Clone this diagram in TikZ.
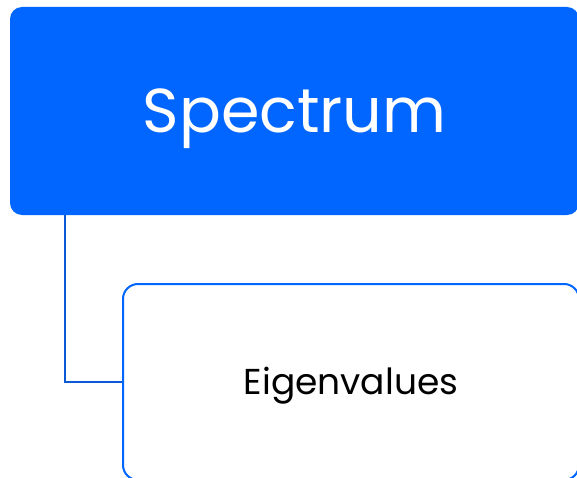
\documentclass[tikz,border=0pt]{standalone}
\usepackage{fontspec}
\setmainfont{Poppins}
\usetikzlibrary{positioning}
\definecolor{specblue}{HTML}{0066FF}
\definecolor{linkblue}{HTML}{0A5AD8}

\begin{document}
\begin{tikzpicture}[x=1pt,y=-1pt,
    topbox/.style={fill=specblue, rounded corners=12pt, inner sep=0pt,
      minimum width=569pt, minimum height=208pt, text=white,
      font=\fontsize{62}{74}\selectfont},
    subbox/.style={draw=specblue, line width=2pt, fill=white,
      rounded corners=15pt, inner sep=0pt, minimum width=456pt,
      minimum height=196pt, font=\fontsize{36}{44}\selectfont}]
  \useasboundingbox (0,0) rectangle (577,478);
  \node [topbox] (spectrum) at (294.5,111) {\raisebox{-22pt}[0pt][0pt]{Spectrum}};
  \node [subbox] (eigen) at (351,382) {\raisebox{-12pt}[0pt][0pt]{Eigenvalues}};
  % link from parent to child
  \draw [linkblue, line width=1.6pt] ([xshift=55pt]spectrum.south west) |- (eigen.west);
\end{tikzpicture}
\end{document}
